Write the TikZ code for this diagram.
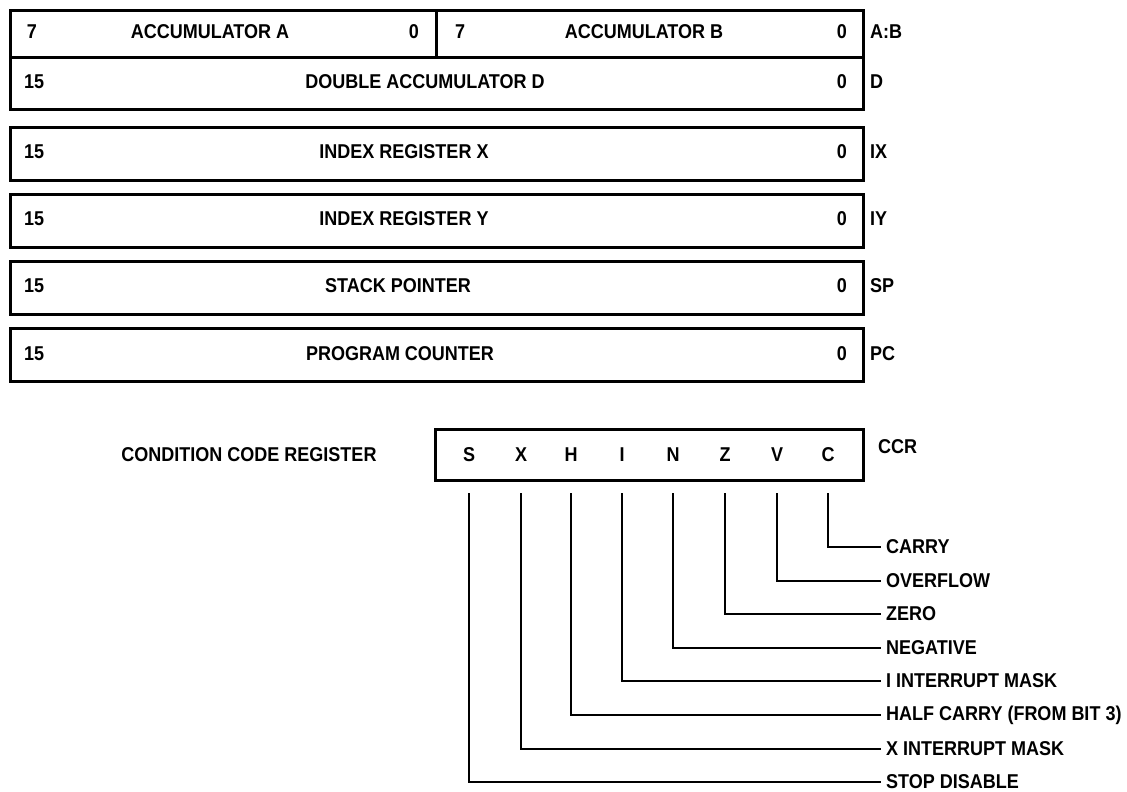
\documentclass[tikz,border=0pt]{standalone}
\usepackage{fontspec}
\setmainfont{Liberation Sans Bold}[FakeStretch=0.9]
\newcommand{\regfont}{\fontsize{20}{22}\selectfont}
\begin{document}
\begin{tikzpicture}[x=1pt,y=-1pt,
  regbox/.style={draw, line width=2.8pt, inner sep=0pt, anchor=north west},
  txt/.style={inner sep=0pt, font=\regfont},
  lbl/.style={inner sep=0pt, font=\regfont, anchor=west},
  conn/.style={line width=2.8pt}]
\useasboundingbox (0,0) rectangle (1127,792);
% register boxes
\node[regbox, minimum width=426pt, minimum height=47pt] (acca) at (9,9) {};
\node[regbox, minimum width=427pt, minimum height=47pt] (accb) at (435,9) {};
\node[regbox, minimum width=853pt, minimum height=52pt] (dreg) at (9,56) {};
\node[regbox, minimum width=853pt, minimum height=53pt] (ix) at (9,126) {};
\node[regbox, minimum width=853pt, minimum height=53pt] (iy) at (9,193) {};
\node[regbox, minimum width=853pt, minimum height=53pt] (sp) at (9,260) {};
\node[regbox, minimum width=853pt, minimum height=53pt] (pc) at (9,327) {};
% accumulator A/B
\node[txt] (a7) at (32,32) {7};
\node[txt] (an) at (210,32) {ACCUMULATOR A};
\node[txt, anchor=east] (a0) at (419,32) {0};
\node[txt] (b7) at (460,32) {7};
\node[txt] (bn) at (644,32) {ACCUMULATOR B};
\node[txt, anchor=east] (b0) at (847,32) {0};
\node[lbl] (lab) at (870,32) {A:B};
% D
\node[txt, anchor=west] (d15) at (24,82) {15};
\node[txt] (dn) at (425,82) {DOUBLE ACCUMULATOR D};
\node[txt, anchor=east] (d0) at (847,82) {0};
\node[lbl] (ld) at (870,82) {D};
% IX
\node[txt, anchor=west] (x15) at (24,152) {15};
\node[txt] (xn) at (404,152) {INDEX REGISTER X};
\node[txt, anchor=east] (x0) at (847,152) {0};
\node[lbl] (lx) at (870,152) {IX};
% IY
\node[txt, anchor=west] (y15) at (24,219) {15};
\node[txt] (yn) at (404,219) {INDEX REGISTER Y};
\node[txt, anchor=east] (y0) at (847,219) {0};
\node[lbl] (ly) at (870,219) {IY};
% SP
\node[txt, anchor=west] (s15) at (24,286) {15};
\node[txt] (sn) at (398,286) {STACK POINTER};
\node[txt, anchor=east] (s0) at (847,286) {0};
\node[lbl] (ls) at (870,286) {SP};
% PC
\node[txt, anchor=west] (p15) at (24,354) {15};
\node[txt] (pn) at (400,354) {PROGRAM COUNTER};
\node[txt, anchor=east] (p0) at (847,354) {0};
\node[lbl] (lp) at (870,354) {PC};
% CCR
\node[txt] (ccrname) at (249,455) {CONDITION CODE REGISTER};
\node[regbox, minimum width=428pt, minimum height=51pt] (ccr) at (434,428) {};
\node[lbl] (lccr) at (878,447) {CCR};
\foreach \n/\t/\x in {bs/S/469, bx/X/521, bh/H/571, bi/I/622, bn2/N/673, bz/Z/725, bv/V/777, bc/C/828}{
  \node[txt] (\n) at (\x,455) {\t};
  \coordinate (\n s) at (\x,493);
}
% flag labels
\node[lbl] (fc) at (886,547) {CARRY};
\node[lbl] (fv) at (886,581) {OVERFLOW};
\node[lbl] (fz) at (886,614) {ZERO};
\node[lbl] (fn) at (886,648) {NEGATIVE};
\node[lbl] (fi) at (886,681) {I INTERRUPT MASK};
\node[lbl] (fh) at (886,715) {HALF CARRY (FROM BIT 3)};
\node[lbl] (fx) at (886,749) {X INTERRUPT MASK};
\node[lbl] (fs) at (886,782) {STOP DISABLE};
\foreach \a/\b in {bc/fc, bv/fv, bz/fz, bn2/fn, bi/fi, bh/fh, bx/fx, bs/fs}{
  \draw[conn] (\a s) |- ([xshift=-5pt]\b.west);
}
\end{tikzpicture}
\end{document}
